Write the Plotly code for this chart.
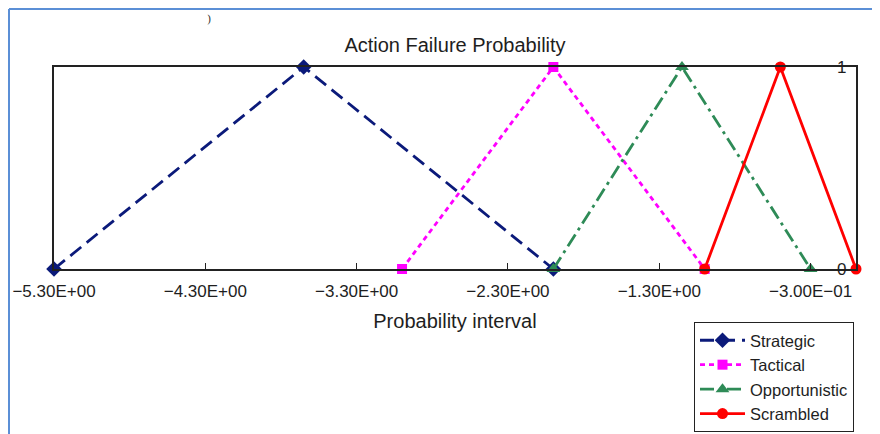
import plotly.graph_objects as go

series_names = ["Strategic", "Tactical", "Opportunistic", "Scrambled"]
strategic_x = [-5.3, -3.65, -2.0]
tactical_x = [-3.0, -2.0, -1.0]
opportunistic_x = [-2.0, -1.15, -0.3]
scrambled_x = [-1.0, -0.5, 0.0]
membership_y = [0, 1, 0]

tick_vals = [-5.3, -4.3, -3.3, -2.3, -1.3, -0.3]
tick_text = ["−5.30E+00", "−4.30E+00", "−3.30E+00", "−2.30E+00", "−1.30E+00", "−3.00E−01"]
y_tick_vals = [0, 1]
y_tick_text = ["0", "1"]

FONT = "Liberation Sans, Arial, sans-serif"
TXT = "#1e1e1e"

# page offset introduced by the default body margin
O = 8
W, H = 880 - O, 434 - O
L, R, T, B = 54 - O, 856 - O, 67 - O, 269 - O
PW, PH = R - L, B - T

def px(x):  # page x -> paper
    return (x - O - L) / PW

def py(y):  # page y -> paper
    return (B - (y - O)) / PH

styles = [
    dict(color="#0b1a7a", dash="14px,7px", symbol="diamond", size=12),
    dict(color="#ff00ff", dash="5px,4px", symbol="square", size=10),
    dict(color="#2e8b57", dash="14px,5px,3px,5px", symbol="triangle-up", size=12),
    dict(color="#ff0000", dash="solid", symbol="circle", size=11),
]
xs = [strategic_x, tactical_x, opportunistic_x, scrambled_x]

fig = go.Figure()
for name, x, st in zip(series_names, xs, styles):
    fig.add_trace(go.Scatter(
        x=x, y=membership_y, name=name, mode="lines+markers",
        line=dict(color=st["color"], dash=st["dash"], width=2.8),
        marker=dict(color=st["color"], symbol=st["symbol"], size=st["size"]),
        cliponaxis=False,
    ))

fig.update_layout(
    width=W, height=H,
    margin=dict(l=L, r=W - R, t=T, b=H - B, autoexpand=False),
    paper_bgcolor="white", plot_bgcolor="white",
    font=dict(family=FONT, size=17, color=TXT),
    title=dict(text="Action Failure Probability", x=0.5, xref="paper", xanchor="center",
               y=1 - (45 - O) / H, yanchor="middle", font=dict(size=20, family=FONT, color=TXT)),
    showlegend=True,
    legend=dict(x=px(694), y=py(322), xanchor="left", yanchor="top",
                bordercolor="#222", borderwidth=1, bgcolor="white",
                font=dict(size=16.5, family=FONT, color=TXT),
                tracegroupgap=0, itemsizing="trace", itemwidth=45),
)
fig.update_xaxes(
    range=[-5.3, 0], tickvals=tick_vals, ticktext=tick_text,
    showgrid=False, zeroline=False, showline=True, linecolor="#222", linewidth=1.5,
    mirror=True, ticks="inside", ticklen=6, tickcolor="#222", ticklabelstandoff=6,
    tickfont=dict(size=17, family=FONT, color=TXT),
    title=dict(text="Probability interval", standoff=14, font=dict(size=20, family=FONT, color=TXT)),
)
fig.update_yaxes(
    range=[0, 1], showticklabels=False, ticks="", showgrid=False, zeroline=False,
    showline=True, linecolor="#222", linewidth=1.5, mirror=True,
)
for v, t in zip(y_tick_vals, y_tick_text):
    fig.add_annotation(text=t, xref="paper", yref="y", x=px(848), y=v, xanchor="right",
                       yanchor="middle", showarrow=False,
                       font=dict(size=17, family=FONT, color=TXT))

# outer light-blue frame of the source document
fig.add_shape(type="line", xref="paper", yref="paper", x0=px(9), x1=px(890),
              y0=py(9), y1=py(9), line=dict(color="#5b8fd6", width=2))
fig.add_shape(type="line", xref="paper", yref="paper", x0=px(9), x1=px(9),
              y0=py(9), y1=py(440), line=dict(color="#5b8fd6", width=2))
fig.add_annotation(text=")", xref="paper", yref="paper", x=px(205), y=py(11),
                   yanchor="top", showarrow=False,
                   font=dict(size=11, family="DejaVu Serif", color="#333"))

fig.write_html("out.html")
